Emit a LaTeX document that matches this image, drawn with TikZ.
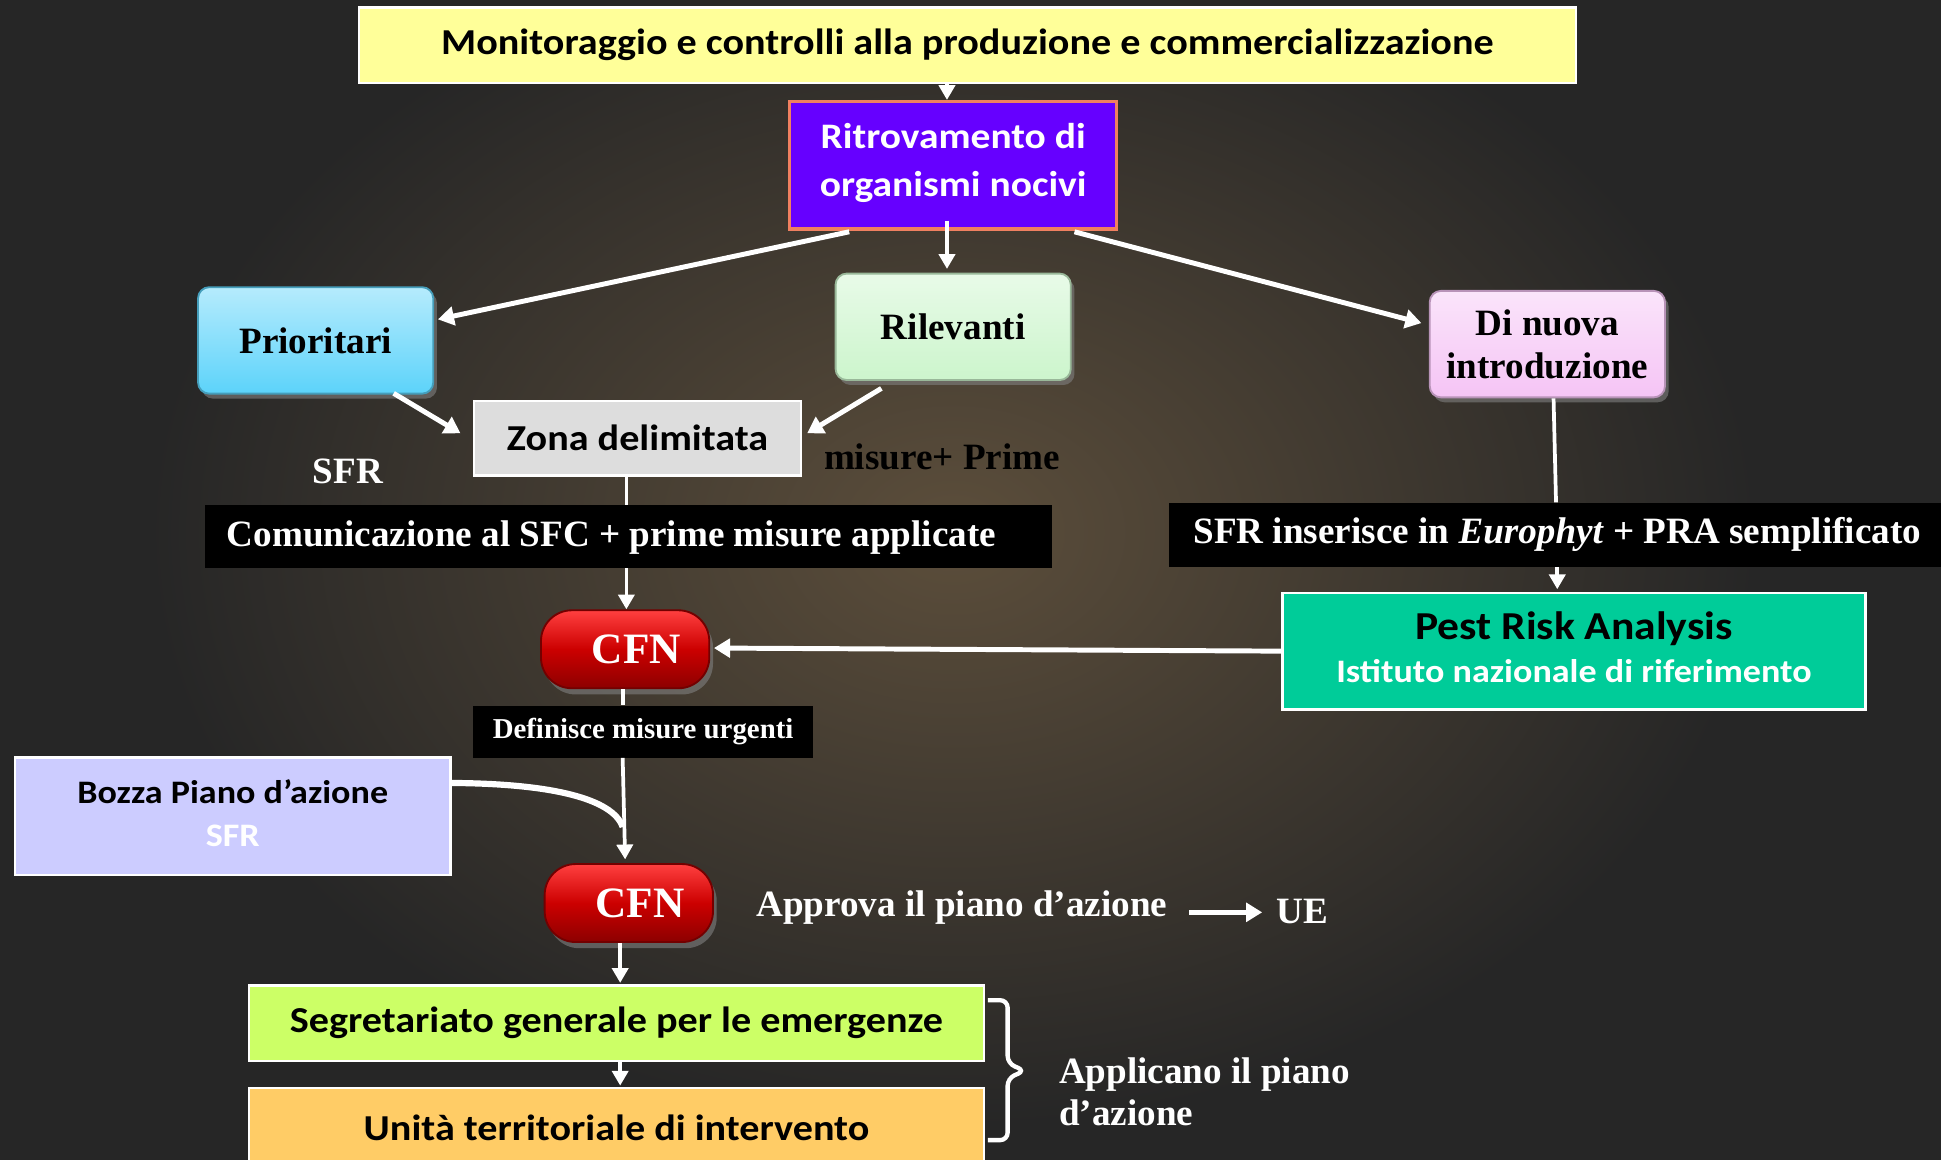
\documentclass[tikz,border=0pt]{standalone}
\usepackage{fontspec}
\setmainfont{Liberation Serif}
\newfontfamily\cali{Carlito}[FakeStretch=1.1]
\usetikzlibrary{arrows.meta,shadows,calc}
\definecolor{bgc}{HTML}{262626}
\definecolor{glow}{HTML}{5C4E3B}
\definecolor{yel}{HTML}{FFFF99}
\definecolor{purp}{HTML}{6600FF}
\definecolor{purpb}{HTML}{F08060}
\definecolor{cyanc}{HTML}{5CD3FA}
\definecolor{greenc}{HTML}{CCF5CC}
\definecolor{pinkc}{HTML}{F5C4F5}
\definecolor{zonec}{HTML}{DDDDDD}
\definecolor{teal}{HTML}{00CC99}
\definecolor{lav}{HTML}{CCCCFF}
\definecolor{lime}{HTML}{CCFF66}
\definecolor{oran}{HTML}{FFCC66}
\definecolor{redc}{HTML}{CC0000}
\tikzset{
  sansT/.style={font=\cali\bfseries\fontsize{29.5}{35}\selectfont},
  serT/.style={font=\bfseries\fontsize{30}{35}\selectfont},
  plain/.style={draw=white, line width=2pt, inner sep=0pt, align=center},
  blk/.style={fill=black, inner sep=0pt},
  bev/.style={rounded corners=9pt, draw=#1!75!black, line width=1.5pt,
    top color=#1!45!white, bottom color=#1, inner sep=0pt,
    minimum width=190pt, minimum height=86pt, align=center, serT,
    drop shadow={opacity=0.6, shadow xshift=3pt, shadow yshift=-4pt}},
  cfn/.style={rounded corners=25pt, draw=red!45!black, line width=1.5pt,
    top color=red!75!white, bottom color=red!55!black, middle color=redc,
    minimum width=136pt, minimum height=63pt, inner sep=0pt, text=white,
    font=\bfseries\fontsize{35}{40}\selectfont,
    drop shadow={opacity=0.6, shadow xshift=3pt, shadow yshift=-5pt}},
  arr/.style={draw=white, line width=4pt, -{Triangle[width=15pt,length=13pt]}},
  arrs/.style={draw=white, line width=3pt, -{Triangle[width=13pt,length=12pt]}},
  ln/.style={draw=white, line width=3pt},
}
\begin{document}
\begin{tikzpicture}[x=1pt,y=-1pt]
\useasboundingbox (0,0) rectangle (1568,937);
\fill[bgc] (0,0) rectangle (1568,937);
\shade[inner color=glow, outer color=bgc] (770,430) ellipse (650 and 480);
\clip (0,0) rectangle (1568,937);

% boxes
\node[plain, fill=yel, minimum width=983pt, minimum height=61pt, sansT] (top) at (781.5,36.5)
  {Monitoraggio e controlli alla produzione e commercializzazione};
\node[plain, draw=purpb, line width=2.5pt, fill=purp, minimum width=264pt,
  minimum height=103pt] (purple) at (770,133.5) {};
\node[text=white, align=center, inner sep=0pt,
  font=\cali\bfseries\fontsize{29}{39}\selectfont] (purplet) at (770,131.5)
  {Ritrovamento di\\organismi nocivi};
\node[bev=cyanc] (prio) at (255,275) {Prioritari};
\node[bev=greenc] (rilev) at (770,264) {Rilevanti};
\node[bev=pinkc, font=\bfseries\fontsize{30}{35}\selectfont] (nuova) at (1250,278) {Di nuova\\introduzione};
\node[plain, fill=zonec, minimum width=264pt, minimum height=60pt, sansT] (zona) at (515,354) {Zona delimitata};
\node[serT, text=white] (sfr) at (281,381) {SFR};
\node[serT, text=black] (misure) at (761,369) {misure+ Prime};

\node[blk, minimum width=684pt, minimum height=51pt] (comm) at (508,433.5) {};
\node[serT, text=white, anchor=west, inner sep=0pt] (commt) at (183,434) {Comunicazione al SFC + prime misure applicate};

\node[blk, minimum width=640pt, minimum height=52pt] (sfrb) at (1264,432) {};
\node[serT, text=white, inner sep=0pt] (sfrt) at (1258,432) {SFR inserisce in \textit{Europhyt} + PRA semplificato};

\node[plain, fill=teal, minimum width=471pt, minimum height=94pt] (pra) at (1271.5,526) {};
\node[align=center, inner sep=0pt,
  font=\cali\bfseries\fontsize{26.5}{35}\selectfont] (prat) at (1271.5,523)
  {{\fontsize{32}{35}\selectfont Pest Risk Analysis}\\
   \textcolor{white}{Istituto nazionale di riferimento}};

\node[cfn] (cfn1) at (505,524.5) {\hspace*{18pt}CFN};
\node[blk, minimum width=275pt, minimum height=42pt, text=white,
  font=\bfseries\fontsize{23.3}{26}\selectfont] (defin) at (519.5,591) {Definisce misure urgenti};

\node[plain, fill=lav, minimum width=352pt, minimum height=95pt] (bozza) at (188,659.5) {};
\node[align=center, inner sep=0pt,
  font=\cali\bfseries\fontsize{26.5}{35}\selectfont] (bozzat) at (188,657)
  {Bozza Piano d’azione\\ \textcolor{white}{SFR}};

\node[cfn] (cfn2) at (508,729.5) {\hspace*{18pt}CFN};
\node[serT, text=white] (approva) at (777,733) {Approva il piano d’azione};
\node[serT, text=white] (ue) at (1052,736) {UE};

\node[plain, fill=lime, minimum width=594pt, minimum height=61pt, sansT] (segr) at (498,826.5)
  {Segretariato generale per le emergenze};
\node[plain, fill=oran, minimum width=594pt, minimum height=64pt, sansT] (unita) at (498,911)
  {Unità territoriale di intervento};
\node[serT, text=white, anchor=west, align=left, font=\bfseries\fontsize{30}{34}\selectfont] (applic) at (852,882)
  {Applicano il piano\\d’azione};

% connectors
\draw[arrs] (top.south -| 765,0) -- (purple.north -| 765,0);
\draw[arr] ($(purple.south)+(-84,1)$) -- ($(prio.east)+(3,-17)$);
\draw[arrs] ($(purple.south)+(-5,-8)$) -- ($(rilev.north)+(-5,-3)$);
\draw[arr] ($(purple.south)+(98,1)$) -- ($(nuova.west)+(-6,-17)$);
\draw[arr] ($(prio.south)+(63,-1)$) -- ($(zona.west)+(-10,-4)$);
\draw[arr] ($(rilev.south)+(-58,6)$) -- ($(zona.east)+(4,-4)$);
\draw[ln] ($(zona.south)+(-9,0)$) -- (comm.north -| 506,0);
\draw[arrs] (comm.south -| 506,0) -- (cfn1.north -| 506,0);
\draw[ln] ($(nuova.south)+(5,0)$) -- (sfrb.north -| 1257,0);
\draw[arrs] (sfrb.south -| 1258,0) -- ($(pra.north -| 1258,0)+(0,-2)$);
\draw[arr] (pra.west) -- ($(cfn1.east)+(3,-1)$);
\draw[ln] (cfn1.south -| 503,0) -- (defin.north -| 503,0);
\draw[arrs] (defin.south -| 503,0) -- ($(cfn2.north -| 505,0)+(0,-3)$);
\draw[draw=white, line width=5pt] ($(bozza.east)+(0,-27)$) .. controls (445,633) and (495,645) .. (503,668);
\draw[arrs] (cfn2.south -| 501,0) -- ($(segr.north -| 501,0)+(0,-1)$);
\draw[arrs] (segr.south -| 501,0) -- ($(unita.north -| 501,0)+(0,-1)$);
\draw[arr] ($(approva.east)+(14,4)$) -- ($(ue.west)+(-8,1)$);
\coordinate (brtop) at ($(segr.north east)+(2,13)$);
\coordinate (brbot) at ($(unita.north east)+(2,43)$);
\draw[white, line width=3.5pt, rounded corners=6pt]
  (brtop) -- ++(16,0) -- ++(0,51) -- ++(14,6) -- ++(-14,6) -- (brbot -| {$(brtop)+(16,0)$}) -- (brbot);
\end{tikzpicture}
\end{document}
